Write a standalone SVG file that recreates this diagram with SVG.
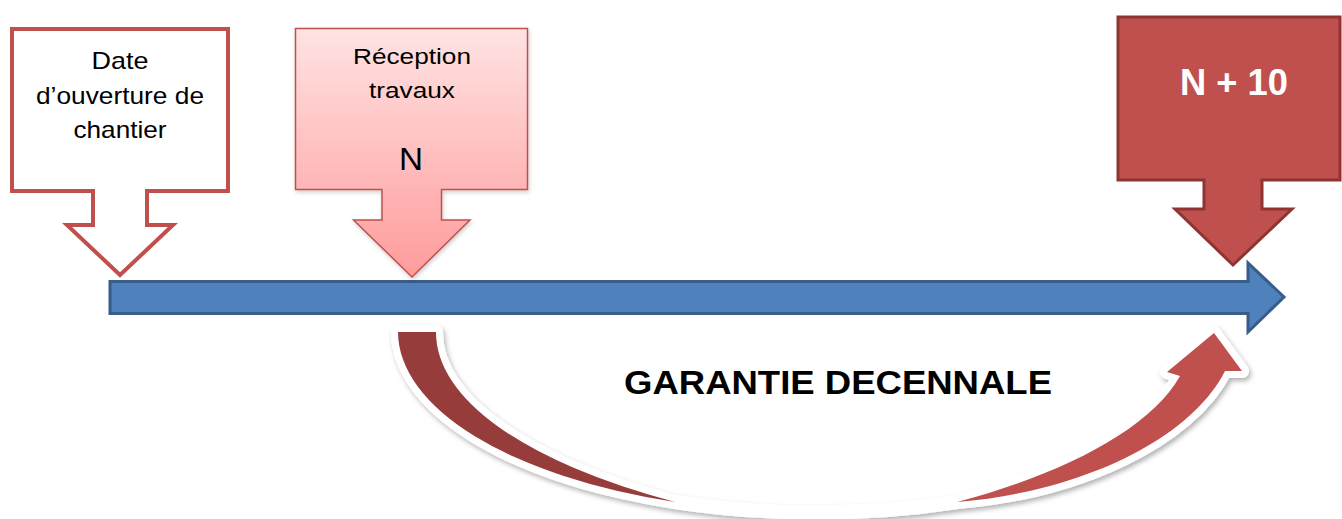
<svg xmlns="http://www.w3.org/2000/svg" width="1342" height="519" viewBox="0 0 1342 519">
<style>
  .lbl { font-family: "Liberation Sans", Arial, sans-serif; fill: #000; text-anchor: middle; }
  .bold { font-weight: bold; }
</style>
<defs>
  <linearGradient id="pinkGrad" gradientUnits="userSpaceOnUse" x1="0" y1="28" x2="0" y2="278">
    <stop offset="0" stop-color="#FFE3E3"/>
    <stop offset="1" stop-color="#FF9B9B"/>
  </linearGradient>
  <filter id="shadow" x="-10%" y="-10%" width="120%" height="130%">
    <feDropShadow dx="2" dy="3" stdDeviation="2.5" flood-color="#000" flood-opacity="0.3"/>
  </filter>
  <filter id="softShadow" x="-10%" y="-10%" width="120%" height="130%">
    <feDropShadow dx="1" dy="2" stdDeviation="2" flood-color="#000" flood-opacity="0.2"/>
  </filter>
</defs>
<rect width="1342" height="519" fill="#fff"/>

<g id="connectors">
  <!-- timeline arrow -->
  <path id="timeline" d="M110,281.5 H1248 V263 L1284,297 L1248,332 V313.5 H110 Z" fill="#4F81BD" stroke="#385D8A" stroke-width="3" stroke-linejoin="miter"/>
  <!-- curved garantie arrow -->
  <g id="curved-arrow">
    <g filter="url(#shadow)" stroke="#fff" stroke-width="14" stroke-linejoin="round" stroke-linecap="round">
      <path d="M398,332 A418,181 0 0 0 675,502 A588,211 0 0 1 436,332 Z" fill="#fff"/>
      <path d="M675,502 A418,181 0 0 0 957,502" fill="none"/>
      <path d="M957,502 C1080,492 1190,440 1225,371 L1242,371 L1214,333 L1167,372 L1180,376 C1150,430 1060,475 957,502 Z" fill="#fff"/>
    </g>
    <path d="M398,332 A418,181 0 0 0 675,502 A588,211 0 0 1 436,332 Z" fill="#963C3B"/>
    <path d="M957,502 C1080,492 1190,440 1225,371 L1242,371 L1214,333 L1167,372 L1180,376 C1150,430 1060,475 957,502 Z" fill="#C0504D"/>
  </g>
</g>

<g id="node-date">
  <path d="M12,29 H228 V191 H147 V225 H173 L120,275 L67,225 H93 V191 H12 Z" fill="#fff" stroke="#C0504D" stroke-width="4" stroke-linejoin="miter"/>
  <text class="lbl" x="120" y="69" font-size="24" textLength="57" lengthAdjust="spacingAndGlyphs">Date</text>
  <text class="lbl" x="120" y="103.5" font-size="24" textLength="168" lengthAdjust="spacingAndGlyphs">d’ouverture de</text>
  <text class="lbl" x="120" y="138" font-size="24" textLength="93" lengthAdjust="spacingAndGlyphs">chantier</text>
</g>

<g id="node-reception">
  <path d="M295.5,28.5 H527.5 V189.5 H441.5 V220 H470 L412,277 L353.5,220 H382 V189.5 H295.5 Z" fill="url(#pinkGrad)" stroke="#C0504D" stroke-width="1.5" filter="url(#softShadow)"/>
  <text class="lbl" x="412" y="64" font-size="22.5" textLength="118" lengthAdjust="spacingAndGlyphs">Réception</text>
  <text class="lbl" x="412" y="98" font-size="22.5" textLength="86" lengthAdjust="spacingAndGlyphs">travaux</text>
  <text class="lbl" x="411" y="170" font-size="31" textLength="24" lengthAdjust="spacingAndGlyphs">N</text>
</g>

<g id="node-n10">
  <path d="M1118,17 H1340 V180 H1262 V209 H1292 L1233,265 L1175,209 H1204 V180 H1118 Z" fill="#C0504D" stroke="#8E3533" stroke-width="3" stroke-linejoin="miter"/>
  <text class="lbl bold" x="1234" y="95" font-size="37" fill="#fff" style="fill:#fff" textLength="108" lengthAdjust="spacingAndGlyphs">N + 10</text>
</g>

<g id="label-garantie">
  <text class="lbl bold" x="838" y="394" font-size="33" textLength="428" lengthAdjust="spacingAndGlyphs">GARANTIE DECENNALE</text>
</g>
</svg>
